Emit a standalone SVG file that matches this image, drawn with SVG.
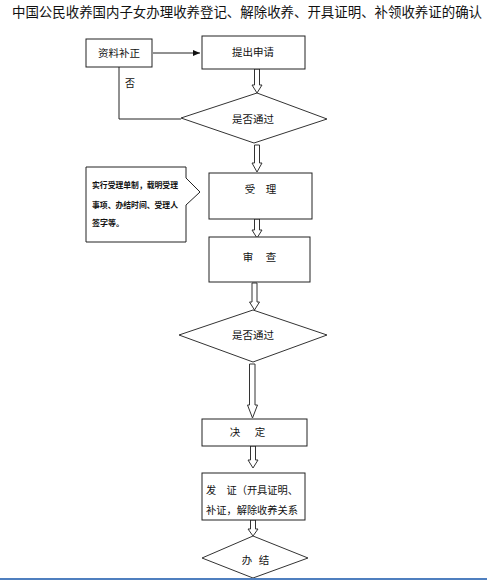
<svg xmlns="http://www.w3.org/2000/svg" width="487" height="580" viewBox="0 0 487 580">
<style>
text{font-family:"Noto Sans CJK SC","Liberation Sans",sans-serif;fill:#111;}
.box{fill:#fff;stroke:#222;stroke-width:1;}
.dia{fill:#fff;stroke:#333;stroke-width:1;}
.ha{fill:#fff;stroke:#333;stroke-width:1;}
.ln{fill:none;stroke:#222;stroke-width:1;}
.t{font-size:10.5px;text-anchor:middle;}
.s{font-size:8px;font-weight:bold;}
</style>
<defs>
<marker id="ah" markerWidth="8" markerHeight="8" refX="7" refY="4" orient="auto" markerUnits="userSpaceOnUse">
<path d="M0,1 L7,4 L0,7 Z" fill="#111"/>
</marker>
</defs>
<rect width="487" height="580" fill="#fff"/>
<text x="12" y="17" font-size="13.5" textLength="470" lengthAdjust="spacingAndGlyphs">中国公民收养国内子女办理收养登记、解除收养、开具证明、补领收养证的确认</text>

<g id="connectors">
<line class="ln" x1="153" y1="53" x2="200" y2="53" marker-end="url(#ah)"/>
<polyline class="ln" points="119,67 119,119 181,119"/>
<polygon class="ha" points="254.5,69 259.5,69 259.5,85 262,85 257,93 252,85 254.5,85"/>
<polygon class="ha" points="254.5,145 259.5,145 259.5,163 262,163 257,172 252,163 254.5,163"/>
<polygon class="ha" points="254.5,219 259.5,219 259.5,230 262,230 257,238 252,230 254.5,230"/>
<polygon class="ha" points="252,283 257,283 257,302 259.5,302 254.5,310 249.5,302 252,302"/>
<polygon class="ha" points="249.5,364 255,364 255,405 257.5,405 252.5,418 247.5,405 249.5,405"/>
<polygon class="ha" points="250.5,446 255.5,446 255.5,460 258,460 253,468 248,460 250.5,460"/>
<polygon class="ha" points="250.5,520 255.5,520 255.5,529 258,529 253,536 248,529 250.5,529"/>
</g>

<g id="n-bz">
<rect class="box" x="86" y="39" width="66" height="28"/>
<text class="t" x="119" y="57">资料补正</text>
</g>
<text x="130" y="87" font-size="10" text-anchor="middle">否</text>

<g id="n-tc">
<rect class="box" x="202" y="36" width="103" height="33"/>
<text class="t" x="253" y="56">提出申请</text>
</g>

<g id="n-d1">
<polygon class="dia" points="257,93 327,119 254,143 181,118"/>
<text class="t" x="253" y="123">是否通过</text>
</g>

<g id="n-note">
<path class="box" d="M86,167 H186 V178 L200,192 L186,205 V242 H86 Z"/>
<text class="s" x="92" y="188" textLength="86" lengthAdjust="spacingAndGlyphs">实行受理单制，载明受理</text>
<text class="s" x="92" y="208" textLength="86" lengthAdjust="spacingAndGlyphs">事项、办结时间、受理人</text>
<text class="s" x="92" y="226">签字等。</text>
</g>

<g id="n-sl">
<rect class="box" x="209" y="173" width="103" height="46"/>
<text class="t" x="250" y="193">受</text>
<text class="t" x="271" y="193">理</text>
</g>

<g id="n-sc">
<rect class="box" x="209" y="237" width="101" height="45"/>
<text class="t" x="248" y="261">审</text>
<text class="t" x="271" y="261">查</text>
</g>

<g id="n-d2">
<polygon class="dia" points="253,310 327,335 253,362 179,335"/>
<text class="t" x="253" y="339">是否通过</text>
</g>

<g id="n-jd">
<rect class="box" x="202" y="419" width="105" height="27"/>
<text class="t" x="235" y="436">决</text>
<text class="t" x="260" y="436">定</text>
</g>

<g id="n-fz">
<rect class="box" x="202" y="473" width="103" height="47"/>
<text x="206" y="494" font-size="10.5" textLength="92" lengthAdjust="spacingAndGlyphs">发　证（开具证明、</text>
<text x="206" y="514" font-size="10.5" textLength="92" lengthAdjust="spacingAndGlyphs">补证，解除收养关系</text>
</g>

<g id="n-bj">
<polygon class="dia" points="253,536 308,558 253,578 202,558"/>
<text class="t" x="247" y="564">办</text>
<text class="t" x="264" y="564">结</text>
</g>
<rect x="0" y="578" width="487" height="2" fill="#4f7fbf"/>
</svg>
